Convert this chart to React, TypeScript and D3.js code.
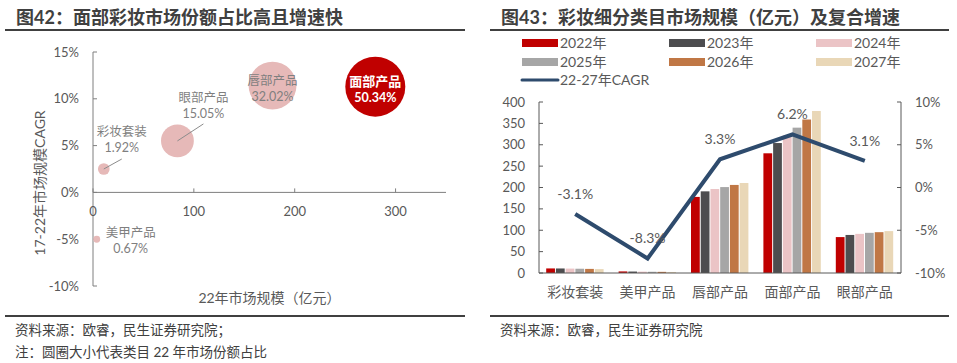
import React from 'react';
import * as d3 from 'd3';

// ---- left chart: bubbles ----
const bubbleNames = ['面部产品', '唇部产品', '眼部产品', '彩妆套装', '美甲产品'];
const bubbleSize2022 = [279.9, 178.0, 83.7, 10.7, 3.7];
const bubbleCagr1722 = [11.3, 11.4, 5.5, 2.5, -5.0];
const bubbleShare = ['50.34%', '32.02%', '15.05%', '1.92%', '0.67%'];
const bubbleShareNum = [50.34, 32.02, 15.05, 1.92, 0.67];
const xTicksLeft = [0, 100, 200, 300];
const yTicksLeft = [15, 10, 5, 0, -5, -10];

// label offsets from bubble centre (layout only)
const labelDx = [0, 0, 26, 18, 34];
const labelDy = [-5, -37 + 32, -43, -37, -7];
const leader = [null, null, [26, -17], [18, -10], null];

// ---- right chart: bars + CAGR line ----
const categories = ['彩妆套装', '美甲产品', '唇部产品', '面部产品', '眼部产品'];
const years = ['2022年', '2023年', '2024年', '2025年', '2026年', '2027年'];
const v2022 = [10.7, 3.7, 178, 280, 84];
const v2023 = [10.6, 3.4, 191, 304, 89];
const v2024 = [10.3, 3.2, 196.5, 322, 91.5];
const v2025 = [10.0, 2.9, 201, 340, 94];
const v2026 = [9.6, 2.7, 206, 359, 95.5];
const v2027 = [9.1, 2.4, 210.5, 379, 98];
const cagr2227 = [-3.1, -8.3, 3.3, 6.2, 3.1];
const leftTicks = [0, 50, 100, 150, 200, 250, 300, 350, 400];
const rightTicks = [10, 5, 0, -5, -10];

const series = [v2022, v2023, v2024, v2025, v2026, v2027];
const barColors = ['#C00000', '#4D4D4F', '#EBC4C6', '#A6A6A6', '#C07745', '#E9D7B7'];
const lineColor = '#2E4B6D';

const FONT = "Lato, 'Noto Sans CJK SC', sans-serif";
const TXT = '#595959';

const BubbleChart = () => {
  const x = d3.scaleLinear().domain([0, 350]).range([93, 446]);
  const y = d3.scaleLinear().domain([-10, 15]).range([286, 52]);
  const r = d3.scaleSqrt().domain([0, 50.34]).range([0, 30]);
  const fmt = (d: number) => `${d}%`;
  return (
    <g fontFamily={FONT}>
      <text x={16} y={24} fontSize={18} fontWeight={700} fill="#404040">图42：面部彩妆市场份额占比高且增速快</text>
      <line x1={5} x2={465} y1={30} y2={30} stroke="#404040" strokeWidth={2} />

      {/* axes */}
      <line x1={x(0)} x2={x(0)} y1={y(15)} y2={y(-10)} stroke="#7F7F7F" />
      {yTicksLeft.map((t) => (
        <g key={t}>
          <line x1={x(0)} x2={x(0) + 4} y1={y(t)} y2={y(t)} stroke="#7F7F7F" />
          <text x={79} y={y(t)} dy="0.35em" textAnchor="end" fontSize={13} fill={TXT}>{fmt(t)}</text>
        </g>
      ))}
      <line x1={x(0)} x2={x(350)} y1={y(0)} y2={y(0)} stroke="#7F7F7F" />
      {xTicksLeft.map((t) => (
        <g key={t}>
          <line x1={x(t)} x2={x(t)} y1={y(0)} y2={y(0) - 4} stroke="#7F7F7F" />
          <text x={x(t)} y={y(0) + 19} dy="0.35em" textAnchor="middle" fontSize={13} fill={TXT}>{t}</text>
        </g>
      ))}
      <text transform={`translate(40,${(y(15) + y(-10)) / 2 + 14}) rotate(-90)`} textAnchor="middle" fontSize={14} fill={TXT} dy="0.35em">17-22年市场规模CAGR</text>
      <text x={(x(0) + x(350)) / 2} y={298} dy="0.35em" textAnchor="middle" fontSize={14} fill={TXT}>22年市场规模（亿元）</text>

      {bubbleNames.map((n, i) => {
        const cx = x(bubbleSize2022[i]);
        const cy = y(bubbleCagr1722[i]);
        const main = i === 0;
        const lx = cx + labelDx[i];
        const ly = i === 1 ? cy - 5 : cy + labelDy[i];
        const ld = leader[i];
        return (
          <g key={n}>
            <circle cx={cx} cy={cy} r={r(bubbleShareNum[i])} fill={main ? '#C00000' : '#E6B9B8'} />
            {ld && <line x1={cx} y1={cy} x2={cx + ld[0]} y2={cy + ld[1]} stroke="#8C8C8C" strokeWidth={1} />}
            <text x={lx} y={ly} dy="0.35em" textAnchor="middle" fontSize={main ? 13 : 12.5} fontWeight={main ? 700 : 400} fill={main ? '#FFFFFF' : '#7F7F7F'}>{n}</text>
            <text x={lx} y={ly + 16} dy="0.35em" textAnchor="middle" fontSize={main ? 12.5 : 12.5} fontWeight={main ? 700 : 400} fill={main ? '#FFFFFF' : '#7F7F7F'}>{bubbleShare[i]}</text>
          </g>
        );
      })}

      <line x1={5} x2={465} y1={316} y2={316} stroke="#404040" strokeWidth={2} />
      <text x={15} y={330} dy="0.35em" fontSize={13.5} fill="#404040">资料来源：欧睿，民生证券研究院；</text>
      <text x={15} y={352} dy="0.35em" fontSize={13.5} fill="#404040">注：圆圈大小代表类目 22 年市场份额占比</text>
    </g>
  );
};

const BarChart = () => {
  const x0 = d3.scaleBand<string>().domain(categories).range([539, 901]).padding(0);
  const bw = x0.bandwidth();
  const x1 = d3.scaleBand<string>().domain(years).range([7.2, bw - 7.8]).paddingInner(0.1);
  const yL = d3.scaleLinear().domain([0, 400]).range([273, 102]);
  const yR = d3.scaleLinear().domain([-10, 10]).range([273, 102]);
  const line = d3.line<number>()
    .x((_, i) => (x0(categories[i]) as number) + bw / 2)
    .y((d) => yR(d));

  const legendCols = [522, 669, 816];
  const legendRows = [43, 62, 80];

  return (
    <g fontFamily={FONT}>
      <text x={501} y={24} fontSize={18} fontWeight={700} fill="#404040">图43：彩妆细分类目市场规模（亿元）及复合增速</text>
      <line x1={490} x2={949} y1={30} y2={30} stroke="#404040" strokeWidth={2} />

      {/* legend */}
      {years.map((yr, i) => {
        const lx = legendCols[i % 3];
        const ly = legendRows[Math.floor(i / 3)];
        return (
          <g key={yr}>
            <rect x={lx} y={ly - 4} width={36} height={8} fill={barColors[i]} />
            <text x={lx + 38} y={ly} dy="0.35em" fontSize={14} fill={TXT}>{yr}</text>
          </g>
        );
      })}
      <line x1={legendCols[0]} x2={legendCols[0] + 36} y1={legendRows[2]} y2={legendRows[2]} stroke={lineColor} strokeWidth={3} strokeLinecap="round" />
      <text x={legendCols[0] + 38} y={legendRows[2]} dy="0.35em" fontSize={14} fill={TXT}>22-27年CAGR</text>

      {/* bars */}
      {categories.map((c, ci) => (
        <g key={c} transform={`translate(${x0(c)},0)`}>
          {series.map((s, si) => (
            <rect key={si} x={x1(years[si])} width={x1.bandwidth()} y={yL(s[ci])} height={yL(0) - yL(s[ci])} fill={barColors[si]} />
          ))}
        </g>
      ))}

      {/* axes */}
      <line x1={539} x2={539} y1={yL(400)} y2={yL(0)} stroke="#595959" />
      {leftTicks.map((t) => (
        <g key={t}>
          <line x1={539} x2={543} y1={yL(t)} y2={yL(t)} stroke="#595959" />
          <text x={525} y={yL(t)} dy="0.35em" textAnchor="end" fontSize={13} fill={TXT}>{t}</text>
        </g>
      ))}
      <line x1={901} x2={901} y1={yR(10)} y2={yR(-10)} stroke="#595959" />
      {rightTicks.map((t) => (
        <g key={t}>
          <line x1={897} x2={901} y1={yR(t)} y2={yR(t)} stroke="#595959" />
          <text x={915} y={yR(t)} dy="0.35em" fontSize={13} fill={TXT}>{`${t}%`}</text>
        </g>
      ))}
      <line x1={539} x2={901} y1={yL(0)} y2={yL(0)} stroke="#595959" />
      {categories.map((c) => (
        <text key={c} x={(x0(c) as number) + bw / 2} y={292} dy="0.35em" textAnchor="middle" fontSize={14} fill={TXT}>{c}</text>
      ))}

      {/* CAGR line */}
      <path d={line(cagr2227) || ''} fill="none" stroke={lineColor} strokeWidth={4} strokeLinejoin="miter" />
      {cagr2227.map((v, i) => (
        <text key={i} x={(x0(categories[i]) as number) + bw / 2} y={yR(v) - 20} dy="0.35em" textAnchor="middle" fontSize={14} fill={TXT}>{`${v.toFixed(1)}%`}</text>
      ))}

      <line x1={490} x2={949} y1={316} y2={316} stroke="#404040" strokeWidth={2} />
      <text x={500} y={330} dy="0.35em" fontSize={13.5} fill="#404040">资料来源：欧睿，民生证券研究院</text>
    </g>
  );
};

export default function App() {
  return (
    <svg width={957} height={363} style={{ position: 'absolute', left: 0, top: 0, background: '#fff' }}>
      <rect width={957} height={363} fill="#fff" />
      <BubbleChart />
      <BarChart />
    </svg>
  );
}
